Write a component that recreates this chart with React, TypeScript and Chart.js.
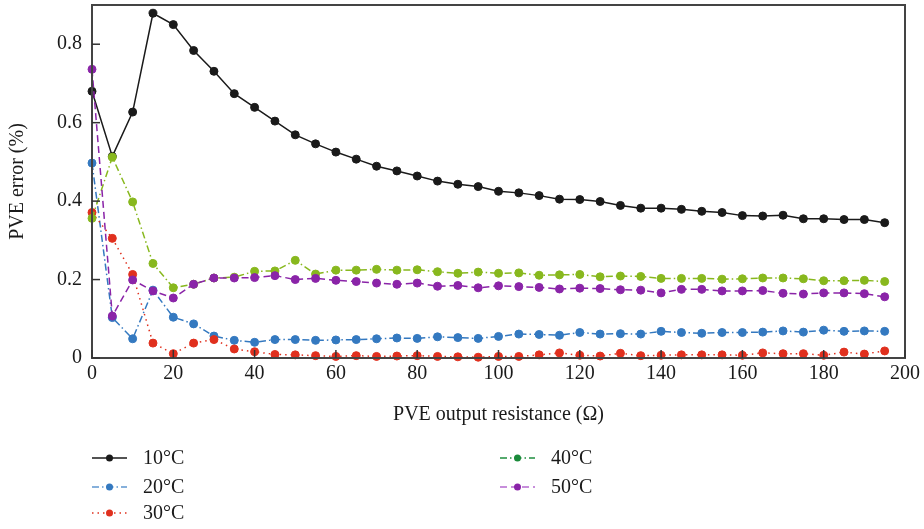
import React, { useEffect, useRef } from "react";
import { Chart, registerables } from "chart.js";

Chart.register(...registerables);

const resistance = [0, 5, 10, 15, 20, 25, 30, 35, 40, 45, 50, 55, 60, 65, 70, 75, 80, 85, 90, 95, 100, 105, 110, 115, 120, 125, 130, 135, 140, 145, 150, 155, 160, 165, 170, 175, 180, 185, 190, 195];

const err10 = [0.680, 0.514, 0.627, 0.879, 0.850, 0.784, 0.731, 0.674, 0.639, 0.604, 0.569, 0.546, 0.525, 0.507, 0.489, 0.477, 0.464, 0.451, 0.443, 0.437, 0.425, 0.421, 0.414, 0.405, 0.404, 0.399, 0.389, 0.382, 0.382, 0.379, 0.374, 0.371, 0.363, 0.362, 0.364, 0.355, 0.355, 0.353, 0.353, 0.345];
const err20 = [0.497, 0.103, 0.049, 0.173, 0.104, 0.087, 0.056, 0.045, 0.040, 0.047, 0.047, 0.045, 0.046, 0.047, 0.049, 0.051, 0.050, 0.054, 0.052, 0.050, 0.055, 0.061, 0.060, 0.058, 0.065, 0.061, 0.062, 0.061, 0.068, 0.065, 0.063, 0.065, 0.065, 0.066, 0.069, 0.066, 0.071, 0.068, 0.069, 0.068];
const err30 = [0.371, 0.305, 0.213, 0.038, 0.011, 0.038, 0.047, 0.023, 0.016, 0.009, 0.008, 0.006, 0.004, 0.006, 0.004, 0.005, 0.006, 0.004, 0.003, 0.002, 0.004, 0.004, 0.008, 0.013, 0.007, 0.005, 0.012, 0.006, 0.007, 0.008, 0.008, 0.008, 0.007, 0.013, 0.011, 0.011, 0.007, 0.015, 0.010, 0.018];
const err40 = [0.356, 0.512, 0.398, 0.241, 0.179, 0.188, 0.204, 0.206, 0.221, 0.222, 0.249, 0.214, 0.224, 0.224, 0.226, 0.224, 0.225, 0.220, 0.216, 0.219, 0.216, 0.217, 0.211, 0.212, 0.213, 0.207, 0.209, 0.208, 0.203, 0.203, 0.203, 0.201, 0.202, 0.204, 0.204, 0.202, 0.197, 0.197, 0.198, 0.195];
const err50 = [0.736, 0.107, 0.199, 0.171, 0.153, 0.188, 0.204, 0.204, 0.205, 0.210, 0.200, 0.203, 0.198, 0.195, 0.191, 0.188, 0.191, 0.183, 0.185, 0.179, 0.184, 0.182, 0.180, 0.176, 0.178, 0.177, 0.174, 0.173, 0.166, 0.175, 0.175, 0.171, 0.171, 0.172, 0.165, 0.163, 0.166, 0.166, 0.164, 0.156];

const seriesLabels = ["10°C", "20°C", "30°C", "40°C", "50°C"];
const seriesValues = [err10, err20, err30, err40, err50];
const lineColors = ["#1a1a1a", "#3479c0", "#e0301e", "#88b81e", "#8a24a8"];
const legendLineColors = ["#1a1a1a", "#5f97d0", "#e0301e", "#1f8f3f", "#b56ad0"];
const legendDotColors = ["#1a1a1a", "#3479c0", "#e0301e", "#1a8a3a", "#8a24a8"];
const dashes = [[], [7, 3, 1.5, 3], [1.5, 4], [7, 3, 1.5, 3], [7, 4]];

const xTicks = [0, 20, 40, 60, 80, 100, 120, 140, 160, 180, 200];
const yTicks = [0, 0.2, 0.4, 0.6, 0.8];

const FONT = "'Liberation Serif', 'Times New Roman', serif";

const framePlugin = {
  id: "frame",
  afterDraw(chart: any) {
    const { ctx, chartArea } = chart;
    const { left, right, top, bottom } = chartArea;
    const xs = chart.scales.x;
    const ys = chart.scales.y;
    ctx.save();
    ctx.strokeStyle = "#444";
    ctx.lineWidth = 2;
    ctx.setLineDash([]);
    ctx.strokeRect(left, top, right - left, bottom - top);
    ctx.lineWidth = 1.5;
    ctx.strokeStyle = "#333";
    xTicks.forEach((v) => {
      const px = xs.getPixelForValue(v);
      ctx.beginPath();
      ctx.moveTo(px, bottom);
      ctx.lineTo(px, bottom - 8);
      ctx.stroke();
    });
    yTicks.forEach((v) => {
      const py = ys.getPixelForValue(v);
      ctx.beginPath();
      ctx.moveTo(left, py);
      ctx.lineTo(left + 8, py);
      ctx.stroke();
    });
    // legend
    const positions = [
      [92, 458],
      [92, 487],
      [92, 513],
      [500, 458],
      [500, 487],
    ];
    ctx.font = `20px ${FONT}`;
    ctx.textBaseline = "middle";
    ctx.textAlign = "left";
    positions.forEach(([lx, ly], i) => {
      ctx.strokeStyle = legendLineColors[i];
      ctx.lineWidth = 1.5;
      ctx.setLineDash(dashes[i]);
      ctx.beginPath();
      ctx.moveTo(lx, ly);
      ctx.lineTo(lx + 35, ly);
      ctx.stroke();
      ctx.setLineDash([]);
      ctx.fillStyle = legendDotColors[i];
      ctx.beginPath();
      ctx.arc(lx + 17.5, ly, 3.5, 0, Math.PI * 2);
      ctx.fill();
      ctx.fillStyle = "#1a1a1a";
      ctx.fillText(seriesLabels[i], lx + 51, ly + 1);
    });
    ctx.restore();
  },
};

export default function App() {
  const ref = useRef<HTMLCanvasElement>(null);
  useEffect(() => {
    if (!ref.current) return;
    const datasets = seriesValues.map((vals, i) => ({
      label: seriesLabels[i],
      data: vals.map((v, j) => ({ x: resistance[j], y: v })),
      borderColor: lineColors[i],
      backgroundColor: lineColors[i],
      pointBackgroundColor: lineColors[i],
      pointBorderColor: lineColors[i],
      pointRadius: 4,
      pointBorderWidth: 1,
      borderWidth: 1.5,
      borderDash: dashes[i],
      tension: 0,
      clip: false as any,
      order: 5 - i,
    }));
    const chart = new Chart(ref.current, {
      type: "line",
      data: { datasets },
      plugins: [framePlugin],
      options: {
        animation: false,
        responsive: true,
        maintainAspectRatio: false,
        layout: { padding: { left: 0, right: 19, top: 2, bottom: 0 } },
        plugins: { legend: { display: false }, tooltip: { enabled: false } },
        scales: {
          x: {
            type: "linear",
            min: 0,
            max: 200,
            afterFit: (s: any) => {
              s.height = 171;
              s.paddingLeft = 0;
              s.paddingRight = 0;
              s.paddingTop = 0;
              s.paddingBottom = 0;
            },
            afterBuildTicks: (s: any) => {
              s.ticks = xTicks.map((v) => ({ value: v }));
            },
            grid: { display: false, drawTicks: false },
            border: { display: false },
            ticks: {
              color: "#1a1a1a",
              font: { family: FONT, size: 20 },
              padding: 4,
              maxRotation: 0,
            },
            title: {
              display: true,
              text: "PVE output resistance (Ω)",
              color: "#1a1a1a",
              font: { family: FONT, size: 20 },
              padding: { top: 0, bottom: 102 },
            },
          },
          y: {
            type: "linear",
            min: 0,
            max: 0.9,
            afterFit: (s: any) => {
              s.width = 92;
              s.paddingLeft = 0;
              s.paddingRight = 0;
              s.paddingTop = 0;
              s.paddingBottom = 0;
            },
            afterBuildTicks: (s: any) => {
              s.ticks = yTicks.map((v) => ({ value: v }));
            },
            grid: { display: false, drawTicks: false },
            border: { display: false },
            ticks: {
              color: "#1a1a1a",
              font: { family: FONT, size: 20 },
              padding: 10,
              callback: (v: any) => (v === 0 ? "0" : Number(v).toFixed(1)),
            },
            title: {
              display: true,
              text: "PVE error (%)",
              color: "#1a1a1a",
              font: { family: FONT, size: 20 },
              padding: { top: 6, bottom: 0 },
            },
          },
        },
      },
    });
    return () => chart.destroy();
  }, []);
  return (
    <div style={{ position: "absolute", left: 0, top: 0, width: 924, height: 529, background: "#fff" }}>
      <canvas ref={ref} />
    </div>
  );
}
